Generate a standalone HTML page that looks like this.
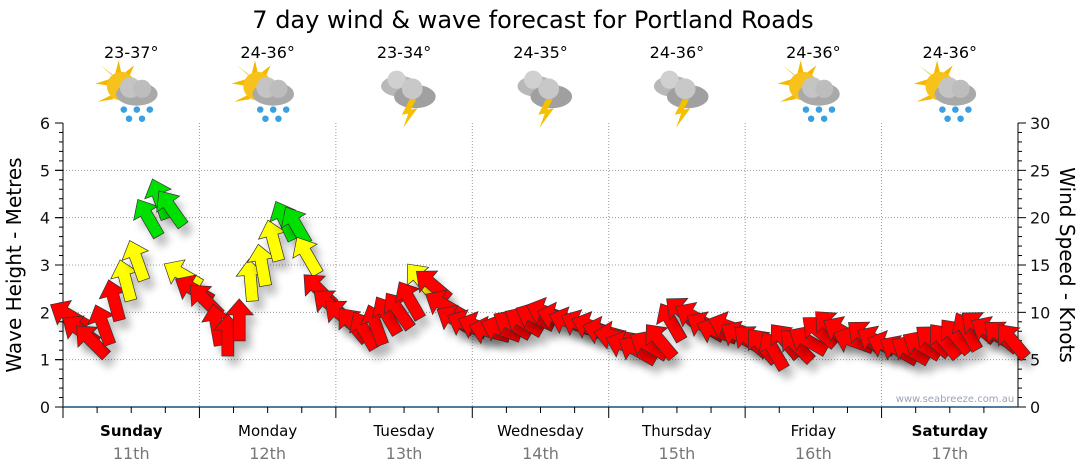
<!DOCTYPE html>
<html><head><meta charset="utf-8"><style>
body{margin:0;background:#fff;font-family:"DejaVu Sans","Liberation Sans",sans-serif;}
svg{display:block}
</style></head><body>
<svg id="c" width="1080" height="475" xmlns="http://www.w3.org/2000/svg" font-family="DejaVu Sans, Liberation Sans, sans-serif">
<defs>
<filter id="sh" x="-50%" y="-50%" width="200%" height="200%"><feGaussianBlur stdDeviation="4"/></filter>
<g id="sunrain">
<g fill="#f5b800"><polygon points="-12,-26 -9,-12 -15,-14"/><polygon points="-30,-8 -16,-6 -17,-12"/><polygon points="-26,-22 -13,-11 -18,-16"/><polygon points="0,-22 -5,-11 -9,-15"/><polygon points="-28,6 -16,0 -16,4"/></g>
<circle cx="-10" cy="-6" r="11" fill="#f7c21c"/>
<ellipse cx="2" cy="0" rx="16" ry="9" fill="#a9a9a9"/><circle cx="-3" cy="-5" r="8" fill="#c4c4c4"/><circle cx="6" cy="-4" r="7" fill="#bdbdbd"/>
<g fill="#3aa0e0"><circle cx="-8" cy="12" r="2.5"/><circle cx="2" cy="12" r="2.5"/><circle cx="12" cy="12" r="2.5"/><circle cx="-4" cy="19" r="2.5"/><circle cx="6" cy="19" r="2.5"/></g>
</g>
<g id="storm">
<ellipse cx="-6" cy="-6" rx="14" ry="8" fill="#b8b8b8"/><circle cx="-8" cy="-11" r="7" fill="#d0d0d0"/>
<ellipse cx="6" cy="2" rx="16" ry="9" fill="#a0a0a0"/><circle cx="4" cy="-4" r="8" fill="#c8c8c8"/>
<polygon points="2,4 -4,16 1,15 -3,26 8,11 3,12 7,4" fill="#f5c000"/>
</g>
</defs>
<text x="533" y="28" font-size="24" text-anchor="middle" fill="#000">7 day wind &amp; wave forecast for Portland Roads</text>
<g id="grid"></g><g id="axes"></g><g id="marks"></g>
<text x="955" y="402" font-size="10" fill="#9aa4b4" text-anchor="middle">www.seabreeze.com.au</text>
<text transform="translate(21,265) rotate(-90)" font-size="20" text-anchor="middle">Wave Height - Metres</text>
<text transform="translate(1060,265) rotate(90)" font-size="20" text-anchor="middle">Wind Speed - Knots</text>
</svg>
<script>
const days=["Sunday","Monday","Tuesday","Wednesday","Thursday","Friday","Saturday"];
const dates=["11th","12th","13th","14th","15th","16th","17th"];
const temps=["23-37°","24-36°","23-34°","24-35°","24-36°","24-36°","24-36°"];
const icons=["sunrain","sunrain","storm","storm","storm","sunrain","sunrain"];
const waveTicks=[0,1,2,3,4,5,6];
const windTicks=[0,5,10,15,20,25,30];
const windKnots=[9.7,8.1,7,8.7,11.3,13.4,15.5,20,22,21,14,12.4,
11.3,8.7,7.6,9.2,13.4,15,17.6,19.7,19.2,16,12.4,10.8,
9.7,8.7,8.1,8.7,9.7,10.2,11.3,13.4,12.9,10.8,9.2,8.7,
8.5,8,8.2,8.7,9,9.5,10,9.5,9,8.7,8.5,8,
7.5,6.5,6,6.5,7,9,10,9.5,8.5,8,8.5,7.5,
7,6.5,6,7,6.5,7,8,8.5,8,7,7.5,7,
6.5,6,6,6.5,7,7,7.5,8,8.5,8,7.5,7];
const windDir=[-60,-55,-45,-20,-15,-15,-20,-30,-20,-35,-60,-60,
-45,-10,0,0,-5,-10,-15,-25,-30,-30,-45,-50,
-50,-40,-30,-20,-30,-35,-30,-40,-50,-60,-60,-65,
-70,-75,-70,-60,-60,-65,-70,-75,-70,-65,-70,-75,
-80,-70,-60,-60,-40,-30,-50,-60,-60,-70,-70,-60,
-50,-40,-30,-40,-45,-60,-50,-45,-60,-70,-50,-60,
-70,-60,-60,-60,-50,-40,-40,-30,-50,-60,-50,-40];
const X0=63,X1=1018,Y0=407,Y1=123;
const NS="http://www.w3.org/2000/svg";
const dayW=(X1-X0)/7;
const xT=h=>X0+h/168*(X1-X0);
const yW=m=>Y0-m/6*(Y0-Y1);
const yK=k=>Y0-k/30*(Y0-Y1);
function mk(p,tag,at,txt){const e=document.createElementNS(NS,tag);for(const k in at)e.setAttribute(k,at[k]);if(txt!==undefined)e.textContent=txt;p.appendChild(e);return e;}
const G=document.getElementById('grid'),A=document.getElementById('axes'),M=document.getElementById('marks');
waveTicks.forEach(v=>{if(v>0&&v<6){const l=mk(G,'line',{x1:X0,x2:X1,y1:yW(v),y2:yW(v),stroke:'#999','stroke-dasharray':'1,2'});

}
const t=mk(A,'text',{x:50,y:yW(v)+6,'font-size':16,'text-anchor':'end',fill:'#111'},v);


mk(A,'line',{x1:X0-8,x2:X0,y1:yW(v),y2:yW(v),stroke:'#000'});});
for(let i=0;i<=30;i++){const y=Y0-i/30*(Y0-Y1);mk(A,'line',{x1:X0-(i%5?4:8),x2:X0,y1:y,y2:y,stroke:'#000'});mk(A,'line',{x1:X1,x2:X1+(i%5?4:8),y1:y,y2:y,stroke:'#000'});}
windTicks.forEach(v=>{const t=mk(A,'text',{x:1030,y:yK(v)+6,'font-size':16,fill:'#111'},v);

});
mk(A,'line',{x1:X0,x2:X0,y1:Y1,y2:Y0,stroke:'#000'});
mk(A,'line',{x1:X1,x2:X1,y1:Y1,y2:Y0,stroke:'#000'});
mk(A,'line',{x1:X0,x2:X1,y1:Y0,y2:Y0,stroke:'#1f4e79','stroke-width':1.5});
for(let d=0;d<7;d++){
 const x=X0+d*dayW;
 if(d>0){const l=mk(G,'line',{x1:x,x2:x,y1:Y1,y2:Y0,stroke:'#999','stroke-dasharray':'1,2'});
 
 }
 for(let q=0;q<4;q++){const xx=x+q*dayW/4;mk(A,'line',{x1:xx,x2:xx,y1:Y0,y2:Y0+(q?6:11),stroke:'#000'});}
 const cx=x+dayW/2;
 const b=(d==0||d==6);
 const dl=mk(A,'text',{x:cx,y:436,'font-size':15,'text-anchor':'middle','font-weight':b?'bold':'normal',fill:'#000'},days[d]);
 
 
 const dt=mk(A,'text',{x:cx,y:459,'font-size':16,'text-anchor':'middle',fill:'#777'},dates[d]);
 
 
 const tp=mk(A,'text',{x:cx,y:58,'font-size':16,'text-anchor':'middle',fill:'#000'},temps[d]);
 
 
 const ic=mk(A,'use',{href:'#'+icons[d],transform:`translate(${cx+3},94) scale(1.3)`});
 
 
}
const arrowPts="0,-21 14,-5 6,-5 6,21 -6,21 -6,-5 -14,-5";
windKnots.forEach((k,i)=>{
 const x=xT(i*2+1),y=yK(k),a=windDir[i];
 const col=k>=18?'#00e000':(k>=13?'#ffff00':'#ff0000');
 mk(M,'polygon',{points:arrowPts,fill:'#000',opacity:0.25,filter:'url(#sh)',transform:`translate(${x+6},${y+9}) rotate(${a})`});
 const p=mk(M,'polygon',{points:arrowPts,fill:col,stroke:'#333','stroke-width':0.7,transform:`translate(${x},${y}) rotate(${a})`});
 
 
});
</script>
</body></html>
